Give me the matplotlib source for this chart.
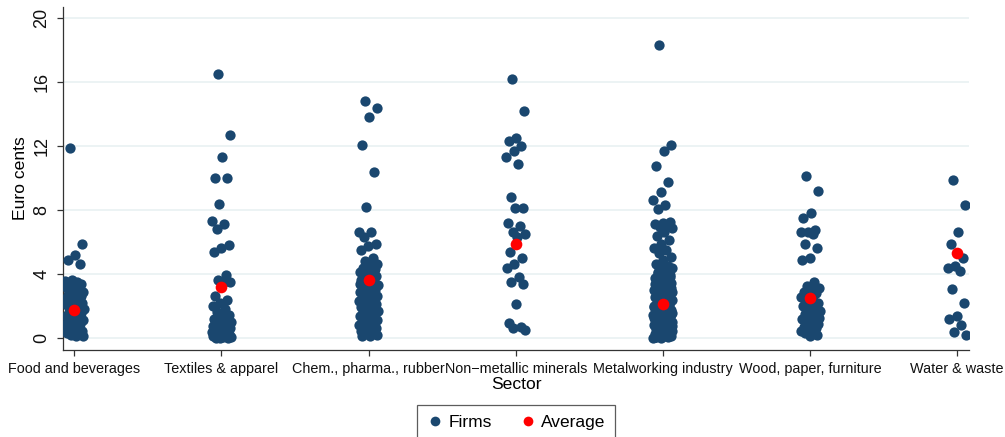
import numpy as np
import matplotlib
matplotlib.use("Agg")
import matplotlib.pyplot as plt
from matplotlib.lines import Line2D

plt.rcParams['font.family'] = ['Liberation Sans', 'DejaVu Sans']

sectors = ["Food and beverages", "Textiles & apparel", "Chem., pharma., rubber",
           "Non\u2212metallic minerals", "Metalworking industry",
           "Wood, paper, furniture", "Water & waste"]

food = [11.9, 5.9, 5.2, 4.9, 4.6,
        3.65, 3.55, 3.5, 3.4, 3.35, 3.2, 3.1, 3.05, 2.95, 2.85, 2.8, 2.7, 2.6, 2.55,
        2.45, 2.35, 2.3, 2.2, 2.1, 2.05, 1.95, 1.85, 1.8, 1.7, 1.6, 1.55, 1.45,
        1.35, 1.3, 1.2, 1.1, 1.0, 0.95, 0.85, 0.75, 0.7, 0.65, 0.55, 0.45, 0.4,
        0.3, 0.25, 0.2, 0.15, 0.1, 3.25, 2.65, 1.9, 0.9, 0.35]
textiles = [16.5, 12.7, 11.3, 10.0, 10.0, 8.4, 7.3, 7.1, 6.8, 5.8, 5.6, 5.4,
            3.95, 3.6, 3.5, 3.45, 2.6, 2.4, 2.2, 2.0, 1.8, 1.6, 1.45, 1.3,
            1.2, 1.1, 1.05, 1.0, 0.95, 0.9, 0.85, 0.8, 0.75, 0.7, 0.65, 0.6,
            0.55, 0.5, 0.45, 0.4, 0.35, 0.3, 0.28, 0.25, 0.2, 0.18, 0.15, 0.1,
            0.08, 0.05, 0.02, 0.0, 0.0, 0.12, 0.22, 0.32, 0.62, 0.9]
chem = [14.85, 14.4, 13.8, 12.1, 10.4, 8.2, 6.65, 6.6, 6.3, 5.9, 5.75, 5.5,
        4.98, 4.8, 4.6, 4.5, 4.4, 4.3, 4.2, 4.1, 4.0, 3.9, 3.85, 3.7, 3.6, 3.5,
        3.45, 3.3, 3.2, 3.1, 3.0, 2.95, 2.9, 2.8, 2.7, 2.65, 2.6, 2.5, 2.45,
        2.4, 2.3, 2.2, 2.15, 2.1, 2.0, 1.95, 1.9, 1.8, 1.7, 1.65, 1.6, 1.5,
        1.45, 1.4, 1.3, 1.2, 1.15, 1.1, 1.0, 0.95, 0.9, 0.8, 0.7, 0.65, 0.6,
        0.5, 0.45, 0.4, 0.3, 0.2, 0.15, 0.1, 2.55, 1.75, 3.35, 0.85, 1.25]
nonmet = [16.2, 14.2, 12.5, 12.3, 12.0, 11.7, 11.3, 10.9, 8.8, 8.1, 8.1,
          7.2, 7.0, 6.6, 6.5, 6.3, 5.4, 5.0, 4.6, 4.4, 3.8, 3.5, 3.4, 2.1,
          0.95, 0.7, 0.6, 0.5]
metal = [18.3, 12.1, 11.7, 10.75, 9.75, 9.15, 8.6, 8.3, 8.05, 7.25, 7.2, 7.15,
         7.05, 6.95, 6.85, 6.6, 6.4, 6.15, 5.85, 5.6, 5.5, 5.3, 5.05, 4.85, 4.6,
         4.5, 4.45,
         4.38, 4.21, 4.12, 3.97, 3.88, 3.74, 3.69, 3.52, 3.47, 3.33, 3.28, 3.16,
         3.05, 2.98, 2.91, 2.83, 2.76, 2.64, 2.58, 2.49, 2.41, 2.37, 2.26, 2.18,
         2.11, 2.04, 1.96, 1.92, 1.85, 1.77, 1.71, 1.64, 1.58, 1.52, 1.47, 1.41,
         1.36, 1.29, 1.24, 1.19, 1.13, 1.08, 1.02, 0.97, 0.93, 0.88, 0.84, 0.79,
         0.75, 0.71, 0.66, 0.62, 0.58, 0.54, 0.49, 0.45, 0.41, 0.37, 0.33, 0.29,
         0.26, 0.22, 0.18, 0.15, 0.11, 0.08, 0.05, 0.03, 0.01,
         4.3, 4.05, 3.81, 3.6, 3.4, 3.21, 3.02, 2.87, 2.7, 2.53, 2.33, 2.15,
         1.99, 1.81, 1.67, 1.49, 1.32, 1.16, 1.01, 0.86, 0.72, 0.57, 0.43, 0.3,
         0.17, 0.06, 3.92, 3.55, 3.12, 2.79, 2.45, 2.08, 1.74, 1.43, 1.11, 0.82,
         0.52, 0.24, 0.09, 2.95, 2.22, 1.55, 0.95, 0.38, 0.12, 1.88, 1.27, 0.64, 0.2]
wood = [10.15, 9.2, 7.8, 7.5, 6.75, 6.65, 6.6, 6.5, 5.9, 5.6, 5.0, 4.85,
        3.5, 3.25, 3.1, 3.0, 2.9, 2.8, 2.7, 2.55, 2.4, 2.3, 2.2, 2.1, 2.0, 1.9,
        1.8, 1.7, 1.6, 1.5, 1.4, 1.3, 1.2, 1.1, 1.0, 0.9, 0.8, 0.7, 0.6, 0.5,
        0.45, 0.4, 0.3, 0.2, 0.1, 2.65, 1.55, 0.85, 1.25, 0.35]
water = [9.85, 8.3, 6.6, 5.85, 5.0, 4.5, 4.4, 4.2, 3.05, 2.2, 1.4, 1.2, 0.8, 0.4, 0.2]

averages = [1.75, 3.2, 3.6, 5.85, 2.1, 2.5, 5.33]

firms = [food, textiles, chem, nonmet, metal, wood, water]

navy = "#1a476f"
red = "#ff0000"

fig = plt.figure(figsize=(10.05, 4.37), dpi=100)
ax = fig.add_axes([63/1005, 1 - 350/437, (969 - 63)/1005, (350 - 7)/437])

for i, vals in enumerate(firms):
    n = len(vals)
    # deterministic spread around the category position (strip plot jitter)
    off = ((np.arange(n) * 0.6180339887 + 0.3) % 1 - 0.5) * 2 * 0.066
    ax.plot(i + 1 + off, vals, 'o', color=navy, markersize=7.4,
            markeredgewidth=0, zorder=3)

ax.plot(np.arange(1, 8), averages, 'o', color=red, markersize=8.4,
        markeredgewidth=0, zorder=4)

ax.set_xlim(0.923, 7.08)
ax.set_ylim(-0.75, 20.7)
ax.set_yticks(range(0, 21, 4))
ax.set_xticks(range(1, 8))
ax.set_xticklabels(sectors)
ax.yaxis.grid(True, color="#eaf2f3", linewidth=1.3, zorder=0)
ax.set_axisbelow(True)

for s in ['top', 'right']:
    ax.spines[s].set_visible(False)
for s in ['left', 'bottom']:
    ax.spines[s].set_color("#333333")
    ax.spines[s].set_linewidth(0.9)

ax.tick_params(axis='both', direction='out', length=4.5, width=0.9,
               color="#333333", labelcolor="#111111")
ax.tick_params(axis='x', labelsize=10.4, pad=4)
ax.tick_params(axis='y', labelsize=13, labelrotation=90, pad=4.5)
for lab in ax.get_yticklabels():
    lab.set_va('center')

ax.set_ylabel("Euro cents", fontsize=12.6)
ax.yaxis.set_label_coords(-0.0386, 0.5)
ax.set_xlabel("Sector", fontsize=12.6, labelpad=1)

handles = [Line2D([], [], marker='o', linestyle='', color=navy, markersize=7,
                  markeredgewidth=0),
           Line2D([], [], marker='o', linestyle='', color=red, markersize=7,
                  markeredgewidth=0)]
leg = fig.legend(handles, ["Firms", "Average"], loc='upper center',
                 bbox_to_anchor=(516/1005, 32/437), ncol=2, frameon=True,
                 fancybox=False, fontsize=12.5, borderpad=0.55,
                 handletextpad=0.25, columnspacing=1.6, handlelength=1.0,
                 borderaxespad=0)
leg.get_frame().set_edgecolor("#333333")
leg.get_frame().set_linewidth(0.9)

fig.savefig("out.png", dpi=100)
